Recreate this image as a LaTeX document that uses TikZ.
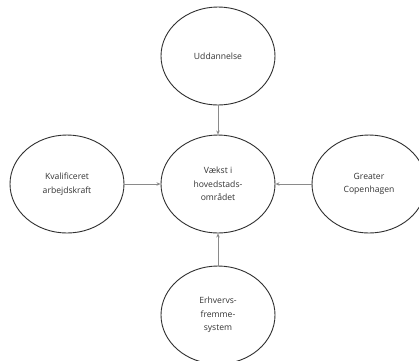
\documentclass[tikz,border=0pt]{standalone}
\usepackage{fontspec}
\setmainfont{Open Sans}
\usetikzlibrary{shapes.geometric,arrows.meta}
\definecolor{rim}{HTML}{303030}
\definecolor{txt}{HTML}{333333}
\definecolor{link}{HTML}{8A8A8A}
\begin{document}
\begin{tikzpicture}[x=1pt,y=-1pt,
  bubble/.style={ellipse,draw=rim,line width=0.9pt,fill=white,
    minimum width=114pt,minimum height=98pt,inner sep=0pt,
    align=center,text=txt,font=\fontsize{8.6}{13.5}\selectfont},
  feed/.style={draw=link,line width=1pt,
    -{Stealth[length=4pt,width=3.5pt]}}]
  \useasboundingbox (0,0) rectangle (419,360);
  \clip (0,0) rectangle (419,360);
  \fill[white] (0,0) rectangle (419,360);
  % the central goal and its four drivers
  \node[bubble] (goal)   at (218,184) {Vækst i\\hovedstads-\\området};
  \node[bubble] (edu)    at (218,56)  {Uddannelse};
  \node[bubble] (labour) at (67,184)  {Kvalificeret\\arbejdskraft};
  \node[bubble] (gc)     at (369,184) {Greater\\Copenhagen};
  \node[bubble] (biz)    at (218,315) {Erhvervs-\\fremme-\\system};
  % each driver feeds into the goal
  \draw[feed] (edu) -- (goal);
  \draw[feed] (labour) -- (goal);
  \draw[feed] (gc) -- (goal);
  \draw[feed] (biz) -- (goal);
\end{tikzpicture}
\end{document}
